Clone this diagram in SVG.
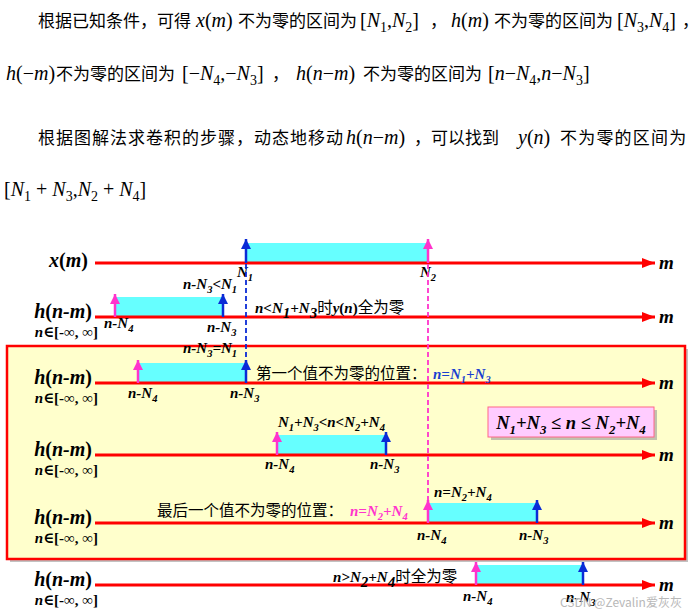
<svg xmlns="http://www.w3.org/2000/svg" width="700" height="615" viewBox="0 0 700 615">
<defs>
<style>
.cn{font-family:"Noto Sans CJK SC","Noto Sans",sans-serif;font-size:17px;fill:#000}
.mt{font-family:"Liberation Serif","Times New Roman",serif;font-size:20px;fill:#000}
.i{font-style:italic}
.sb{font-size:70%;baseline-shift:-0.35em}
.lb{font-family:"Liberation Serif","Times New Roman",serif;font-weight:bold;font-style:italic;font-size:15px;fill:#000}
.up{font-style:normal}
.lh{font-family:"Liberation Serif","Times New Roman",serif;font-weight:bold;font-size:20px;fill:#000}
.ln{font-family:"Liberation Serif","DejaVu Serif",serif;font-weight:bold;font-size:15px;fill:#000}
.lm{font-family:"Liberation Serif",serif;font-weight:bold;font-style:italic;font-size:19px;fill:#000}
.cd{font-family:"Noto Sans CJK SC","Noto Sans",sans-serif;font-size:15.5px;fill:#000}
.blue{fill:#1a3fd0}
.pink{fill:#ff33cc}
.big{font-size:18.5px}
.axis{stroke:#ff0000;stroke-width:3;marker-end:url(#ar)}
.bar{fill:#66ffff}
.ab{stroke:#0a2bd6;stroke-width:2.5;marker-end:url(#mb)}
.ap{stroke:#ff33cc;stroke-width:2.5;marker-end:url(#mp)}
.db{stroke:#0a2bd6;stroke-width:1.8;stroke-dasharray:5 3;fill:none}
.dp{stroke:#ff33cc;stroke-width:1.8;stroke-dasharray:5 3;fill:none}
</style>
<marker id="ar" markerUnits="userSpaceOnUse" markerWidth="14" markerHeight="10" refX="13" refY="5" orient="auto"><path d="M0,0 L13,5 L0,10 z" fill="#ff0000"/></marker>
<marker id="mb" markerUnits="userSpaceOnUse" markerWidth="11" markerHeight="10" refX="10" refY="5" orient="auto"><path d="M0,0 L10,5 L0,10 z" fill="#0a2bd6"/></marker>
<marker id="mp" markerUnits="userSpaceOnUse" markerWidth="11" markerHeight="10" refX="10" refY="5" orient="auto"><path d="M0,0 L10,5 L0,10 z" fill="#ff33cc"/></marker>
</defs>
<rect width="700" height="615" fill="#ffffff"/>

<g id="paragraph">
<text class="cn" x="38" y="27">根据已知条件，可得</text>
<text class="mt" x="196" y="27"><tspan class="i">x</tspan>(<tspan class="i">m</tspan>)</text>
<text class="cn" x="238" y="27">不为零的区间为</text>
<text class="mt" x="360" y="27">[<tspan class="i">N</tspan><tspan class="sb">1</tspan>,<tspan class="i">N</tspan><tspan class="sb">2</tspan>]</text>
<text class="cn" x="430" y="27">，</text>
<text class="mt" x="451" y="27"><tspan class="i">h</tspan>(<tspan class="i">m</tspan>)</text>
<text class="cn" x="494" y="27">不为零的区间为</text>
<text class="mt" x="617" y="27">[<tspan class="i">N</tspan><tspan class="sb">3</tspan>,<tspan class="i">N</tspan><tspan class="sb">4</tspan>]</text>
<text class="cn" x="682" y="27">，</text>

<text class="mt" x="6" y="80"><tspan class="i">h</tspan>(−<tspan class="i">m</tspan>)</text>
<text class="cn" x="56" y="80">不为零的区间为</text>
<text class="mt" x="182" y="80">[−<tspan class="i">N</tspan><tspan class="sb">4</tspan>,−<tspan class="i">N</tspan><tspan class="sb">3</tspan>]</text>
<text class="cn" x="272" y="80">，</text>
<text class="mt" x="296" y="80"><tspan class="i">h</tspan>(<tspan class="i">n</tspan>−<tspan class="i">m</tspan>)</text>
<text class="cn" x="363" y="80">不为零的区间为</text>
<text class="mt" x="488" y="80">[<tspan class="i">n</tspan>−<tspan class="i">N</tspan><tspan class="sb">4</tspan>,<tspan class="i">n</tspan>−<tspan class="i">N</tspan><tspan class="sb">3</tspan>]</text>

<text class="cn" x="38" y="144" letter-spacing="1">根据图解法求卷积的步骤，动态地移动</text>
<text class="mt" x="346" y="144"><tspan class="i">h</tspan>(<tspan class="i">n</tspan>−<tspan class="i">m</tspan>)</text>
<text class="cn" x="414" y="144">，可以找到</text>
<text class="mt" x="518" y="144"><tspan class="i">y</tspan>(<tspan class="i">n</tspan>)</text>
<text class="cn" x="560" y="144" letter-spacing="1.2">不为零的区间为</text>

<text class="mt" x="4" y="196">[<tspan class="i">N</tspan><tspan class="sb">1</tspan> + <tspan class="i">N</tspan><tspan class="sb">3</tspan>,<tspan class="i">N</tspan><tspan class="sb">2</tspan> + <tspan class="i">N</tspan><tspan class="sb">4</tspan>]</text>
</g>

<g id="range-box">
<rect x="10" y="349" width="678" height="213" fill="#9a9a9a" opacity="0.6"/>
<rect x="7" y="346" width="678" height="213" fill="#ffffcc" stroke="#ff0000" stroke-width="2.5"/>
</g>

<g id="row-x">
<text class="lh" x="88" y="267" text-anchor="end"><tspan font-style="italic">x</tspan>(<tspan font-style="italic">m</tspan>)</text>
<rect class="bar" x="246" y="243" width="182" height="20"/>
<line class="axis" x1="95" y1="263" x2="655" y2="263"/>
<line class="ab" x1="246" y1="263" x2="246" y2="239"/>
<line class="ap" x1="428" y1="263" x2="428" y2="239"/>
<text class="lm" x="659" y="269">m</text>
<text class="lb" x="237" y="277">N<tspan class="sb">1</tspan></text>
<text class="lb" x="420" y="277">N<tspan class="sb">2</tspan></text>
</g>

<g id="row-1">
<text class="lh" x="92" y="318" text-anchor="end"><tspan font-style="italic">h</tspan>(<tspan font-style="italic">n-m</tspan>)</text>
<text class="ln" x="98" y="337" text-anchor="end"><tspan font-style="italic">n</tspan>∈[-∞, ∞]</text>
<rect class="bar" x="115" y="297" width="108" height="20"/>
<line class="axis" x1="95" y1="317" x2="655" y2="317"/>
<line class="ap" x1="115" y1="317" x2="115" y2="294"/>
<line class="ab" x1="223" y1="317" x2="223" y2="294"/>
<text class="lm" x="659" y="323">m</text>
<text class="lb" x="183" y="289">n-N<tspan class="sb">3</tspan>&lt;N<tspan class="sb">1</tspan></text>
<text x="255" y="313"><tspan class="lb">n&lt;N</tspan><tspan class="lb sb">1</tspan><tspan class="lb">+N</tspan><tspan class="lb sb">3</tspan><tspan class="cd">时</tspan><tspan class="lb">y</tspan><tspan class="lb up">(</tspan><tspan class="lb">n</tspan><tspan class="lb up">)</tspan><tspan class="cd">全为零</tspan></text>
<text class="lb" x="104" y="328">n-N<tspan class="sb">4</tspan></text>
<text class="lb" x="207" y="332">n-N<tspan class="sb">3</tspan></text>
</g>

<g id="row-2">
<text class="lh" x="92" y="384" text-anchor="end"><tspan font-style="italic">h</tspan>(<tspan font-style="italic">n-m</tspan>)</text>
<text class="ln" x="98" y="403" text-anchor="end"><tspan font-style="italic">n</tspan>∈[-∞, ∞]</text>
<rect class="bar" x="138" y="363" width="108" height="20"/>
<line class="axis" x1="95" y1="383" x2="655" y2="383"/>
<line class="ap" x1="138" y1="383" x2="138" y2="360"/>
<line class="ab" x1="246" y1="383" x2="246" y2="360"/>
<text class="lm" x="659" y="389">m</text>
<text class="lb" x="183" y="353">n-N<tspan class="sb">3</tspan>=N<tspan class="sb">1</tspan></text>
<text class="cd" x="256" y="379">第一个值不为零的位置：</text>
<text class="lb blue" x="433" y="379">n=N<tspan class="sb">1</tspan>+N<tspan class="sb">3</tspan></text>
<text class="lb" x="128" y="398">n-N<tspan class="sb">4</tspan></text>
<text class="lb" x="230" y="398">n-N<tspan class="sb">3</tspan></text>
</g>

<g id="condition">
<rect x="491" y="410" width="166" height="30" fill="#9a9a9a" opacity="0.6"/>
<rect x="488" y="407" width="166" height="30" fill="#ffccff" stroke="#ff6688" stroke-width="1"/>
<text class="lb big" x="571" y="429" text-anchor="middle">N<tspan class="sb">1</tspan>+N<tspan class="sb">3</tspan><tspan class="up"> ≤ </tspan>n<tspan class="up"> ≤ </tspan>N<tspan class="sb">2</tspan>+N<tspan class="sb">4</tspan></text>
</g>

<g id="row-3">
<text class="lh" x="92" y="456" text-anchor="end"><tspan font-style="italic">h</tspan>(<tspan font-style="italic">n-m</tspan>)</text>
<text class="ln" x="98" y="475" text-anchor="end"><tspan font-style="italic">n</tspan>∈[-∞, ∞]</text>
<rect class="bar" x="277" y="435" width="109" height="20"/>
<line class="axis" x1="95" y1="455" x2="655" y2="455"/>
<line class="ap" x1="277" y1="455" x2="277" y2="432"/>
<line class="ab" x1="386" y1="455" x2="386" y2="432"/>
<text class="lm" x="659" y="461">m</text>
<text class="lb" x="278" y="427">N<tspan class="sb">1</tspan>+N<tspan class="sb">3</tspan>&lt;n&lt;N<tspan class="sb">2</tspan>+N<tspan class="sb">4</tspan></text>
<text class="lb" x="265" y="469">n-N<tspan class="sb">4</tspan></text>
<text class="lb" x="370" y="469">n-N<tspan class="sb">3</tspan></text>
</g>

<g id="row-4">
<text class="lh" x="92" y="524" text-anchor="end"><tspan font-style="italic">h</tspan>(<tspan font-style="italic">n-m</tspan>)</text>
<text class="ln" x="98" y="543" text-anchor="end"><tspan font-style="italic">n</tspan>∈[-∞, ∞]</text>
<rect class="bar" x="428" y="503" width="109" height="20"/>
<line class="axis" x1="95" y1="523" x2="655" y2="523"/>
<line class="ap" x1="428" y1="523" x2="428" y2="500"/>
<line class="ab" x1="537" y1="523" x2="537" y2="500"/>
<text class="lm" x="659" y="529">m</text>
<text class="cd" x="157" y="516">最后一个值不为零的位置：</text>
<text class="lb pink" x="350" y="516">n=N<tspan class="sb">2</tspan>+N<tspan class="sb">4</tspan></text>
<text class="lb" x="434" y="497">n=N<tspan class="sb">2</tspan>+N<tspan class="sb">4</tspan></text>
<text class="lb" x="417" y="540">n-N<tspan class="sb">4</tspan></text>
<text class="lb" x="519" y="540">n-N<tspan class="sb">3</tspan></text>
</g>

<g id="row-5">
<text class="lh" x="92" y="586" text-anchor="end"><tspan font-style="italic">h</tspan>(<tspan font-style="italic">n-m</tspan>)</text>
<text class="ln" x="98" y="605" text-anchor="end"><tspan font-style="italic">n</tspan>∈[-∞, ∞]</text>
<rect class="bar" x="476" y="565" width="107" height="20"/>
<line class="axis" x1="95" y1="585" x2="655" y2="585"/>
<line class="ap" x1="476" y1="585" x2="476" y2="562"/>
<line class="ab" x1="583" y1="585" x2="583" y2="562"/>
<text class="lm" x="659" y="591">m</text>
<text x="333" y="582"><tspan class="lb">n&gt;N</tspan><tspan class="lb sb">2</tspan><tspan class="lb">+N</tspan><tspan class="lb sb">4</tspan><tspan class="cd">时全为零</tspan></text>
<text class="lb" x="463" y="601">n-N<tspan class="sb">4</tspan></text>
<text class="lb" x="566" y="602">n-N<tspan class="sb">3</tspan></text>
</g>

<g id="connectors">
<line class="db" x1="246" y1="264" x2="246" y2="362"/>
<line class="dp" x1="428" y1="264" x2="428" y2="502"/>
</g>

<text x="560" y="607" font-family="'Noto Sans CJK SC','Noto Sans',sans-serif" font-size="12" fill="#b8b8b8">CSDN @Zevalin爱灰灰</text>
</svg>
